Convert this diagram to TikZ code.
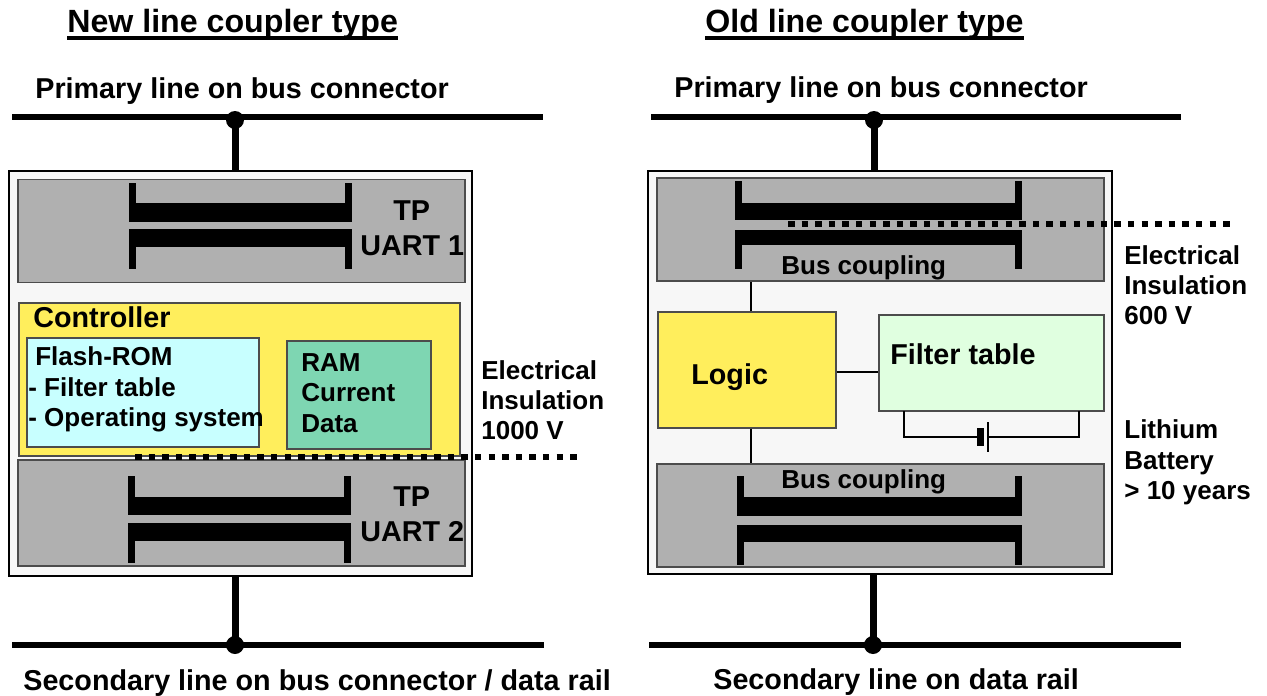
\documentclass[tikz,border=0pt]{standalone}
\usepackage{fontspec}
\setmainfont{Liberation Sans}
\usetikzlibrary{positioning}

\definecolor{shellgray}{HTML}{F7F7F7}
\definecolor{blockgray}{HTML}{B0B0B0}
\definecolor{ctrlyellow}{HTML}{FFEE5C}
\definecolor{flashcyan}{HTML}{C8FFFF}
\definecolor{ramgreen}{HTML}{7ED6B2}
\definecolor{filtergreen}{HTML}{E0FFE0}

\tikzset{
    label/.style={anchor=base west, inner sep=0pt, font=\bfseries\fontsize{14.8}{17.3}\selectfont},
    biglabel/.style={anchor=base west, inner sep=0pt, font=\bfseries\fontsize{16.35}{19}\selectfont},
    para/.style={anchor=north west, inner sep=0pt, align=left, font=\bfseries\fontsize{14.8}{17.3}\selectfont},
    heading/.style={anchor=base west, inner sep=0pt, font=\bfseries\fontsize{18.3}{21}\selectfont},
    rulebelow/.style={line width=0.08cm},
    shell/.style={draw=black, line width=0.045cm, fill=shellgray, inner sep=0pt},
    block/.style={draw=black!70, line width=0.03cm, inner sep=0pt},
    busline/.style={line width=0.13cm},
    stem/.style={line width=0.14cm},
    wire/.style={line width=0.04cm},
    gap/.style={line width=0.13cm, dash pattern=on 0.13cm off 0.142cm},
    junction/.style={circle, fill=black, inner sep=0pt, minimum size=0.36cm}
}

\begin{document}
\begin{tikzpicture}[x=0.02cm, y=-0.02cm]
    \useasboundingbox (0,0) rectangle (1267,696);

    % left side
    \node[shell, minimum width=9.26cm, minimum height=8.10cm] (shellL) at (240.5,373.5) {};
    \node[block, fill=blockgray, minimum width=8.94cm, minimum height=2.06cm] (uartA) at (241.5,231) {};
    \node[block, fill=blockgray, minimum width=8.94cm, minimum height=2.12cm] (uartB) at (241.5,513) {};
    \node[block, fill=ctrlyellow, minimum width=8.82cm, minimum height=3.06cm] (ctrl) at (239.5,379.5) {};
    \node[block, fill=flashcyan, minimum width=4.64cm, minimum height=2.18cm] (flash) at (143,392.5) {};
    \node[block, fill=ramgreen, minimum width=2.88cm, minimum height=2.16cm] (ram) at (359,395) {};

    % right side
    \node[shell, minimum width=9.28cm, minimum height=8.06cm] (shellR) at (880,372.5) {};
    \node[block, fill=blockgray, minimum width=8.94cm, minimum height=2.06cm] (busA) at (880.5,229.5) {};
    \node[block, fill=blockgray, minimum width=8.94cm, minimum height=2.06cm] (busB) at (880.5,515.5) {};
    \node[block, fill=ctrlyellow, minimum width=3.56cm, minimum height=2.32cm] (logic) at (747,370) {};
    \node[block, fill=filtergreen, minimum width=4.50cm, minimum height=1.92cm] (filter) at (991.5,363) {};

    \foreach \xa/\xb/\ya/\yb/\ba/\bb in {129/352/183/222/203/222, 129/352/229/269/229/247,
                                         128/351/476/515/497/515, 128/351/523/563/523/541,
                                         735/1022/181/220/203/220, 735/1022/230/269/230/245,
                                         737/1022/476/516/497/516, 737/1022/525/565/525/542}
    {
        \fill (\xa,\ya) rectangle (\xa+7,\yb);
        \fill (\xb-7,\ya) rectangle (\xb,\yb);
        \fill (\xa,\ba) rectangle (\xb,\bb);
    }

    % buses
    \coordinate (priLa) at (12,117);
    \coordinate (priLb) at (543,117);
    \coordinate (secLa) at (12,645);
    \coordinate (secLb) at (544,645);
    \coordinate (priRa) at (651,117);
    \coordinate (priRb) at (1181,117);
    \coordinate (secRa) at (649,645);
    \coordinate (secRb) at (1181,645);
    \draw[busline] (priLa) -- (priLb);
    \draw[busline] (secLa) -- (secLb);
    \draw[busline] (priRa) -- (priRb);
    \draw[busline] (secRa) -- (secRb);
    \node[junction] (jPriL) at (235,120) {};
    \node[junction] (jSecL) at (235,645) {};
    \node[junction] (jPriR) at (874,120) {};
    \node[junction] (jSecR) at (873,645) {};
    \draw[stem] (jPriL.center) -- (jPriL |- shellL.north);
    \draw[stem] (jSecL.center) -- (jSecL |- shellL.south);
    \draw[stem] (jPriR.center) -- (jPriR |- shellR.north);
    \draw[stem] (jSecR.center) -- (jSecR |- shellR.south);

    % connections inside the old type
    \draw[wire] ([xshift=0.08cm]logic.north) -- ([xshift=0.08cm]logic.north |- busA.south);
    \draw[wire] ([xshift=0.08cm]logic.south) -- ([xshift=0.08cm]logic.south |- busB.north);
    \draw[wire] (logic.east |- 0,372) -- (filter.west |- 0,372);

    \coordinate (batMinus) at (977,437);
    \coordinate (batPlus) at (988,437);
    \draw[wire] (904,411) |- (batMinus);
    \draw[wire] (1079,411) |- (batPlus);
    \fill (977,428) rectangle (984,446);
    \draw[line width=0.045cm] (988,422) -- (988,452);

    % insulation gaps
    \coordinate (gapLa) at (135,457);
    \coordinate (gapLb) at (578,457);
    \coordinate (gapRa) at (788,224);
    \coordinate (gapRb) at (1231,224);
    \draw[gap] (gapLa) -- (gapLb);
    \draw[gap] (gapRa) -- (gapRb);

    % texts
    \node[heading] (titleL) at (67,33) {New line coupler type};
    \node[heading] (titleR) at (705,33) {Old line coupler type};
    \draw[rulebelow] ([yshift=-0.105cm]titleL.base west) -- ([yshift=-0.105cm]titleL.base east);
    \draw[rulebelow] ([yshift=-0.105cm]titleR.base west) -- ([yshift=-0.105cm]titleR.base east);
    \node[biglabel] (priL) at (35,98) {Primary line on bus connector};
    \node[biglabel] (priR) at (674,97) {Primary line on bus connector};
    \node[biglabel] (secL) at (23,690) {Secondary line on bus connector / data rail};
    \node[biglabel] (secR) at (713,689) {Secondary line on data rail};

    \node[biglabel] (tpA) at (393,220) {TP};
    \node[biglabel] (uartAtext) at (360,255) {UART 1};
    \node[biglabel] (tpB) at (393,506) {TP};
    \node[biglabel] (uartBtext) at (360,541) {UART 2};
    \node[biglabel] (ctrlText) at (33,327) {Controller};
    \node[para] (flashText) at (28,346.5) {\hspace*{0.14cm}Flash-ROM\\- Filter table\\- Operating system};
    \node[para] (ramText) at (301,353) {RAM\\Current\\Data};
    \node[para] (insL) at (481,360) {Electrical\\Insulation\\1000 V};

    \node[label] (busAtext) at (781,274) {Bus coupling};
    \node[label] (busBtext) at (781,488) {Bus coupling};
    \node[biglabel] (logicText) at (691,384) {Logic};
    \node[biglabel] (filterText) at (890,364) {Filter table};
    \node[para] (insR) at (1124,245) {Electrical\\Insulation\\600 V};
    \node[para] (batText) at (1124,419.5) {Lithium\\Battery\\> 10 years};
\end{tikzpicture}
\end{document}
